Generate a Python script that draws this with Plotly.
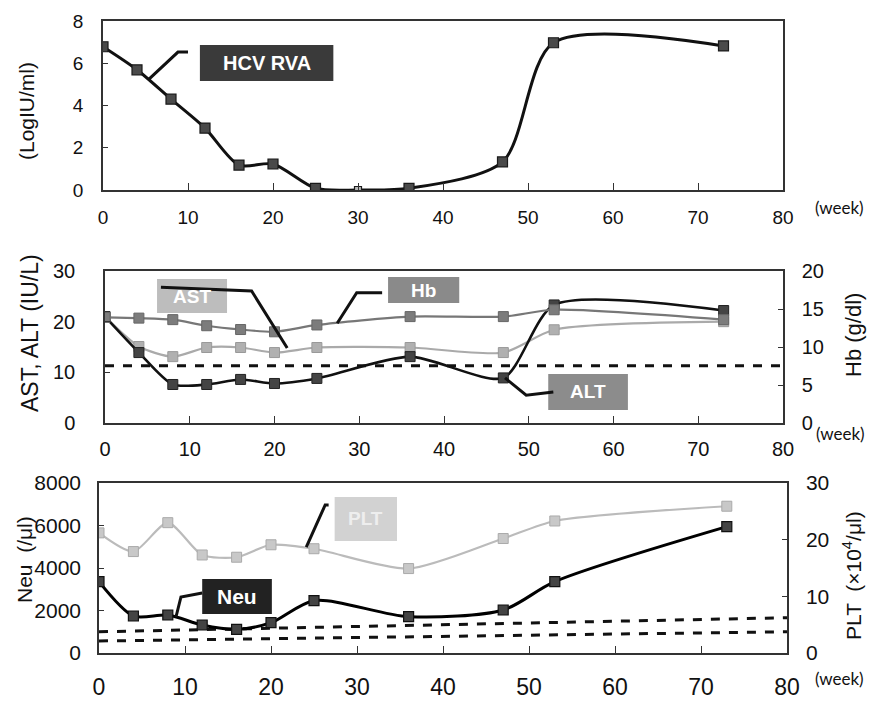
import plotly.graph_objects as go

# ---------------- data ----------------
weeks_hcv = [0, 4, 8, 12, 16, 20, 25, 30, 36, 47, 53, 73]
hcv_rna = [6.78, 5.69, 4.3, 2.93, 1.18, 1.23, 0.08, 0.0, 0.08, 1.33, 6.97, 6.82]
hcv_marker_colors = ["#4a4a4a"] * 7 + ["#b8b8b8"] + ["#4a4a4a"] * 4
hcv_marker_sizes = [10] * 7 + [7] + [10] * 4

weeks_lab = [0, 4, 8, 12, 16, 20, 25, 36, 47, 53, 73]
ast = [21.0, 15.1, 13.1, 14.9, 14.9, 13.9, 14.9, 14.9, 13.9, 18.4, 20.0]
alt = [21.0, 13.9, 7.6, 7.6, 8.6, 7.8, 8.8, 13.1, 8.9, 23.3, 22.2]
hb = [13.9, 13.8, 13.6, 12.8, 12.3, 12.0, 12.9, 14.0, 14.0, 14.9, 13.6]
alt_ref_x = [0, 80]
alt_ref_y = [11.3, 11.3]

weeks_blood = [0, 4, 8, 12, 16, 20, 25, 36, 47, 53, 73]
neu = [3355, 1741, 1788, 1318, 1113, 1427, 2463, 1710, 2024, 3357, 5945]
plt_ = [21.2, 17.9, 23.0, 17.3, 16.9, 19.1, 18.4, 14.9, 20.2, 23.3, 25.9]
ref_x = [0, 80]
ref_upper = [1000, 1660]
ref_lower = [565, 1000]

x_ticks = [0, 10, 20, 30, 40, 50, 60, 70, 80]

# page body has an 8px margin: the figure is sized to fit the window
OFF = 8
W, H = 877 - OFF, 701 - OFF
FONT = "Liberation Sans Narrow, Arial Narrow, Liberation Sans, Arial"
TFONT = "Liberation Sans, Arial"
AX = "#333333"


def px(x):
    return (x - OFF) / W


def py(y):
    return 1 - (y - OFF) / H


fig = go.Figure()

# ---- top panel: HCV RNA ----
fig.add_trace(go.Scatter(
    x=weeks_hcv, y=hcv_rna, mode="lines+markers", xaxis="x", yaxis="y",
    line=dict(color="#111111", width=3, shape="spline", smoothing=0.8),
    marker=dict(symbol="square", size=hcv_marker_sizes, color=hcv_marker_colors, opacity=1,
                line=dict(color="#1a1a1a", width=1.2)),
    showlegend=False))

# ---- middle panel ----
fig.add_trace(go.Scatter(
    x=alt_ref_x, y=alt_ref_y, mode="lines", xaxis="x2", yaxis="y2",
    line=dict(color="#111111", width=3, dash="dash"), showlegend=False))
fig.add_trace(go.Scatter(
    x=weeks_lab, y=ast, mode="lines+markers", xaxis="x2", yaxis="y2",
    line=dict(color="#aaaaaa", width=2.2, shape="spline", smoothing=0.7),
    marker=dict(symbol="square", size=10, color="#b0b0b0", line=dict(color="#999999", width=1)),
    showlegend=False))
fig.add_trace(go.Scatter(
    x=weeks_lab, y=hb, mode="lines+markers", xaxis="x2", yaxis="y3",
    line=dict(color="#777777", width=2.2, shape="spline", smoothing=0.7),
    marker=dict(symbol="square", size=10, color="#7c7c7c", line=dict(color="#666666", width=1)),
    showlegend=False))
fig.add_trace(go.Scatter(
    x=weeks_lab, y=alt, mode="lines+markers", xaxis="x2", yaxis="y2",
    line=dict(color="#111111", width=2.6, shape="spline", smoothing=0.7),
    marker=dict(symbol="square", size=10, color="#444444", line=dict(color="#222222", width=1)),
    showlegend=False))

# ---- bottom panel ----
fig.add_trace(go.Scatter(
    x=ref_x, y=ref_upper, mode="lines", xaxis="x3", yaxis="y4",
    line=dict(color="#111111", width=3, dash="dash"), showlegend=False))
fig.add_trace(go.Scatter(
    x=ref_x, y=ref_lower, mode="lines", xaxis="x3", yaxis="y4",
    line=dict(color="#111111", width=3, dash="dash"), showlegend=False))
fig.add_trace(go.Scatter(
    x=weeks_blood, y=plt_, mode="lines+markers", xaxis="x3", yaxis="y5",
    line=dict(color="#bbbbbb", width=2.2, shape="spline", smoothing=0.7),
    marker=dict(symbol="square", size=10, color="#c8c8c8", line=dict(color="#aaaaaa", width=1)),
    showlegend=False))
fig.add_trace(go.Scatter(
    x=weeks_blood, y=neu, mode="lines+markers", xaxis="x3", yaxis="y4",
    line=dict(color="#000000", width=3, shape="spline", smoothing=0.8),
    marker=dict(symbol="square", size=10, color="#444444", line=dict(color="#111111", width=1.2)),
    showlegend=False))


def xax(domain, anchor, size, standoff):
    return dict(domain=domain, anchor=anchor, range=[0, 80], tickvals=x_ticks,
                ticks="inside", ticklen=7, tickcolor=AX, showline=True, mirror=True,
                linecolor=AX, linewidth=1.5, showgrid=False, zeroline=False,
                tickfont=dict(family=FONT, size=size, color="#111"),
                ticklabelstandoff=standoff, automargin=False)


def yax(domain, anchor, rng, dtick, size, standoff, side="left", overlaying=None):
    d = dict(domain=domain, anchor=anchor, range=rng, dtick=dtick, side=side,
             ticks="inside", ticklen=5, tickcolor=AX, showline=True,
             linecolor=AX, linewidth=1.5, showgrid=False, zeroline=False,
             tickfont=dict(family=FONT, size=size, color="#111"),
             ticklabelstandoff=standoff, automargin=False)
    if overlaying:
        d["overlaying"] = overlaying
    else:
        d["mirror"] = True
    return d


d1 = [py(190), py(21)]
d2 = [py(423), py(271)]
d3 = [py(653), py(483)]

fig.update_layout(
    width=W, height=H, margin=dict(l=0, r=0, t=0, b=0, autoexpand=False),
    paper_bgcolor="white", plot_bgcolor="white", showlegend=False,
    xaxis=xax([px(103), px(783)], "y", 19, 9),
    yaxis=yax(d1, "x", [0, 8], 2, 19, 14),
    xaxis2=xax([px(105), px(783)], "y2", 20, 7),
    yaxis2=yax(d2, "x2", [0, 30], 10, 20, 24),
    yaxis3=yax(d2, "x2", [0, 20], 5, 20, 13, side="right", overlaying="y2"),
    xaxis3=xax([px(99), px(787)], "y4", 23, 13),
    yaxis4=yax(d3, "x3", [0, 8000], 2000, 21, 12),
    yaxis5=yax(d3, "x3", [0, 30], 10, 21, 13, side="right", overlaying="y4"),
)

shapes = []
annots = []


def box(xr, yr, x0, x1, y0, y1, color, text, tcolor, fsize):
    shapes.append(dict(type="rect", xref=xr, yref=yr, x0=x0, x1=x1, y0=y0, y1=y1,
                       fillcolor=color, line=dict(width=0), layer="above"))
    annots.append(dict(xref=xr, yref=yr, x=(x0 + x1) / 2, y=(y0 + y1) / 2, text="<b>%s</b>" % text,
                       showarrow=False, font=dict(family=FONT, size=fsize, color=tcolor)))


def leader(xr, yr, pts, width=3):
    path = "M %s,%s " % pts[0] + " ".join("L %s,%s" % p for p in pts[1:])
    shapes.append(dict(type="path", xref=xr, yref=yr, path=path,
                       line=dict(color="#111111", width=width), layer="above"))


# top labels
box("x", "y", 11.4, 27.1, 5.16, 6.86, "#3a3a3a", "HCV RVA", "white", 20)
leader("x", "y", [(5.41, 5.25), (8.82, 6.53), (10.0, 6.53)])

# middle labels
box("x2", "y2", 6.14, 14.4, 21.7, 28.4, "#bdbdbd", "AST", "white", 19)
leader("x2", "y2", [(6.6, 26.8), (17.3, 26.05), (21.5, 14.8)])
box("x2", "y2", 33.4, 41.8, 23.7, 28.8, "#8a8a8a", "Hb", "white", 19)
leader("x2", "y2", [(27.4, 19.7), (29.7, 25.7), (32.7, 25.7)])
box("x2", "y2", 52.3, 61.7, 2.57, 9.67, "#8c8c8c", "ALT", "white", 19)
leader("x2", "y2", [(47.2, 8.9), (49.7, 5.5), (52.9, 6.1)])

# bottom labels
box("x3", "y4", 12.0, 20.1, 1835, 3482, "#222222", "Neu", "white", 21)
leader("x3", "y4", [(8.95, 1694), (9.53, 2635), (12.0, 2824)])
box("x3", "y4", 27.4, 34.65, 5271, 7341, "#d2d2d2", "PLT", "#eeeeee", 19)
leader("x3", "y4", [(24.1, 4988), (26.3, 6965), (26.7, 6965)])


def ptext(x, y, text, size, angle=0, family=TFONT, anchor="center"):
    annots.append(dict(xref="paper", yref="paper", x=px(x), y=py(y), text=text,
                       showarrow=False, textangle=angle, xanchor=anchor, yanchor="middle",
                       font=dict(family=family, size=size, color="#111")))


ptext(26, 111, "(LogIU/ml)", 21, -90)
ptext(30, 333, "AST, ALT (IU/L)", 23, -90)
ptext(853, 335, "Hb (g/dl)", 22, -90)
ptext(24, 560, "Neu  (/μl)", 21, -90)
ptext(852, 576, "PLT  (×10<sup>4</sup>/μl)", 21, -90)
ptext(866, 208, "(week)", 17, 0, "Lato, Open Sans", "right")
ptext(867, 433, "(week)", 17, 0, "Lato, Open Sans", "right")
ptext(866, 678, "(week)", 17, 0, "Lato, Open Sans", "right")

fig.update_layout(shapes=shapes, annotations=annots)
fig.write_html("out.html")
